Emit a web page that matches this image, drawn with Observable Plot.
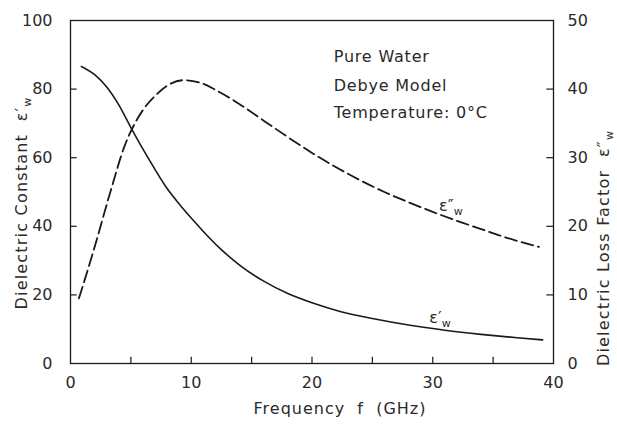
<!DOCTYPE html>
<html>
<head>
<meta charset="utf-8">
<script src="https://cdn.jsdelivr.net/npm/d3@7"></script>
<script src="https://cdn.jsdelivr.net/npm/@observablehq/plot@0.6"></script>
<style>
  html, body { margin: 0; padding: 0; background: #fff; }
</style>
</head>
<body>
<div id="chart"></div>
<script>
// Dielectric constant ε'w (solid, left axis)
const freqPrime = [0.9, 2.0, 3.0, 4.0, 5.0, 6.4, 8.0, 9.0, 10.2, 11.0, 12.4, 14.0, 16.0, 18.0, 20.0, 22.4, 25.0, 28.0, 31.0, 34.0, 37.0, 39.1];
const epsPrime  = [86.6, 84.2, 80.6, 75.4, 68.8, 60.1, 51.0, 46.5, 41.6, 38.5, 33.5, 28.7, 24.0, 20.4, 17.7, 15.1, 13.1, 11.2, 9.7, 8.5, 7.5, 6.9];

// Dielectric loss factor ε''w (dashed, right axis 0–50)
const freqLoss = [0.7, 2.0, 3.3, 4.5, 5.3, 6.1, 7.0, 8.0, 9.4, 10.8, 12.4, 14.0, 16.0, 18.0, 20.0, 22.0, 24.0, 26.0, 28.0, 30.0, 32.0, 34.0, 36.0, 38.8];
const epsLoss  = [9.5, 17.0, 25.0, 31.8, 34.9, 37.2, 39.0, 40.5, 41.3, 40.9, 39.5, 37.8, 35.4, 33.0, 30.7, 28.6, 26.7, 25.0, 23.5, 22.1, 20.8, 19.6, 18.4, 17.0];

const xTicks = [0, 10, 20, 30, 40];
const xMinorTicks = [5, 10, 15, 20, 25, 30, 35];
const yLeftTicks = [0, 20, 40, 60, 80, 100];
const yRightTicks = [0, 10, 20, 30, 40, 50];
const notes = ["Pure Water", "Debye Model", "Temperature: 0°C"];
const noteLevels = [89.4, 80.9, 73.0];

const primeData = freqPrime.map((f, i) => ({f, v: epsPrime[i]}));
const lossData = freqLoss.map((f, i) => ({f, v: epsLoss[i] * 2}));

const ink = "#1a1a1a";
const textInk = "#2a2a2a";

const chart = Plot.plot({
  width: 617,
  height: 436,
  marginLeft: 70,
  marginRight: 64,
  marginTop: 20,
  marginBottom: 73,
  x: {domain: [0, 40]},
  y: {domain: [0, 100]},
  style: {fontFamily: "DejaVu Sans", fontSize: "16px", color: textInk, background: "#fff"},
  marks: [
    Plot.frame({stroke: ink, strokeWidth: 1.3}),
    // inward ticks
    Plot.ruleX(xMinorTicks, {x: d => d, y1: 0, y2: 1.8, stroke: ink, strokeWidth: 1.2}),
    Plot.ruleY(yLeftTicks.slice(1, -1), {y: d => d, x1: 0, x2: 0.55, stroke: ink, strokeWidth: 1.2}),
    Plot.ruleY(yRightTicks.slice(1, -1), {y: d => d * 2, x1: 39.45, x2: 40, stroke: ink, strokeWidth: 1.2}),
    Plot.axisX({ticks: xTicks, tickSize: 0, tickPadding: 13, label: null, fill: textInk, fontSize: 16}),
    Plot.axisY({anchor: "left", ticks: yLeftTicks, tickSize: 0, tickPadding: 18, label: null, fill: textInk, fontSize: 16}),
    Plot.axisY({anchor: "right", ticks: yRightTicks.map(d => d * 2), tickFormat: d => d / 2, tickSize: 0, tickPadding: 14, label: null, fill: textInk, fontSize: 16}),
    // curves
    Plot.line(primeData, {x: "f", y: "v", curve: "monotone-x", stroke: ink, strokeWidth: 1.6}),
    Plot.line(lossData, {x: "f", y: "v", curve: "monotone-x", stroke: ink, strokeWidth: 1.8, strokeDasharray: "12,5"}),
    // curve labels
    Plot.text(["ε″§w"], {x: 31.5, y: 46, fontSize: 16, fill: textInk}),
    Plot.text(["ε′§w"], {x: 30.6, y: 13.2, fontSize: 16, fill: textInk}),
    // notes
    Plot.text(notes, {x: 21.8, y: (d, i) => noteLevels[i], textAnchor: "start", fontSize: 16, fill: textInk}),
    // axis titles
    Plot.text(["Frequency  f  (GHz)"], {frameAnchor: "bottom", dx: 28, dy: 50, fontSize: 16, fill: textInk}),
    Plot.text(["Dielectric Constant  ε′§w"], {frameAnchor: "left", dx: -49, dy: 11, rotate: -90, textAnchor: "middle", fontSize: 16, fill: textInk}),
    Plot.text(["Dielectric Loss Factor  ε″§w"], {frameAnchor: "right", dx: 50, dy: 56, rotate: -90, textAnchor: "middle", fontSize: 16, fill: textInk})
  ]
});

// letter spacing for the typewriter-like wide lettering
const spacing = [
  ["Pure Water", 0.8], ["Debye Model", 0.8], ["Temperature", 0.8],
  ["Frequency", 1], ["Dielectric Constant", 1.2], ["Dielectric Loss", 1.2]
];
chart.querySelectorAll("text").forEach(t => {
  const s = spacing.find(([k]) => t.textContent.startsWith(k));
  if (s) t.setAttribute("letter-spacing", s[1] + "px");
});

// turn "§w" markers into subscripts
chart.querySelectorAll("text").forEach(t => {
  if (t.textContent.includes("§")) {
    const [main, sub] = t.textContent.split("§");
    t.textContent = main;
    const ts = document.createElementNS("http://www.w3.org/2000/svg", "tspan");
    ts.setAttribute("font-size", "11");
    ts.setAttribute("dy", "4");
    ts.textContent = sub;
    t.appendChild(ts);
  }
});

document.getElementById("chart").appendChild(chart);
</script>
</body>
</html>
